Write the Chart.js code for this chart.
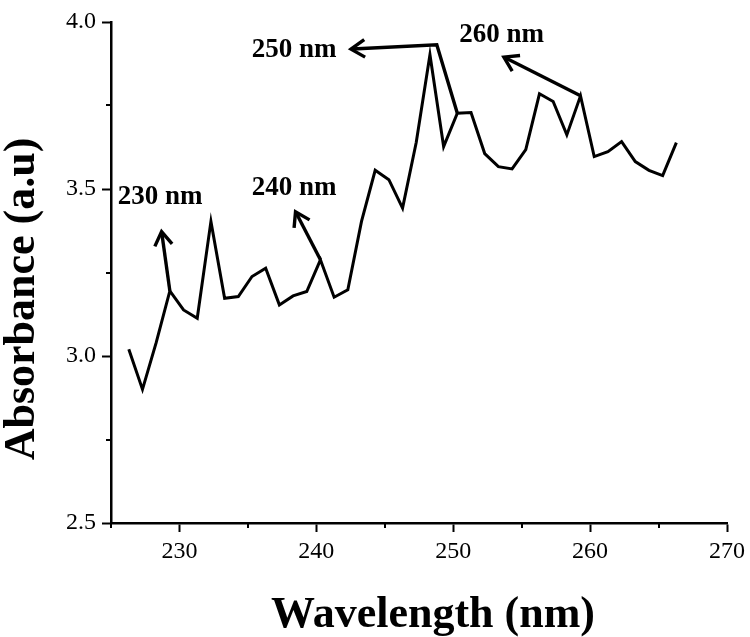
<!DOCTYPE html>
<html>
<head>
<meta charset="utf-8">
<script src="https://cdn.jsdelivr.net/npm/chart.js@4/dist/chart.umd.min.js"></script>
<style>
  html, body { margin: 0; padding: 0; background: #fff; }
  #wrap { width: 750px; height: 637px; }
</style>
</head>
<body>
<div id="wrap"><canvas id="absChart" width="750" height="637"></canvas></div>
<script>
// wavelength (nm) of each sample
const wavelengths = [226.3, 227.3, 228.3, 229.3, 230.3, 231.3, 232.3, 233.3, 234.3, 235.3,
  236.3, 237.3, 238.3, 239.3, 240.3, 241.3, 242.3, 243.3, 244.3, 245.3,
  246.3, 247.3, 248.3, 249.3, 250.3, 251.3, 252.3, 253.3, 254.3, 255.3,
  256.3, 257.3, 258.3, 259.3, 260.3, 261.3, 262.3, 263.3, 264.3, 265.3, 266.3];

// absorbance
const absorbance = [3.02, 2.90, 3.04, 3.195, 3.138, 3.113, 3.403, 3.173, 3.178, 3.238,
  3.263, 3.153, 3.180, 3.193, 3.288, 3.176, 3.198, 3.403, 3.556, 3.528,
  3.443, 3.64, 3.902, 3.627, 3.727, 3.729, 3.606, 3.567, 3.560, 3.618,
  3.785, 3.762, 3.662, 3.779, 3.597, 3.612, 3.642, 3.582, 3.556, 3.540, 3.639];

const xTickLabels = [230, 240, 250, 260, 270];
const yTickLabels = [2.5, 3.0, 3.5, 4.0];

// peak labels: text position and arrow path, in data units (last point = arrow tip)
const peakLabels = ['230 nm', '240 nm', '250 nm', '260 nm'];
const labelPos = [[228.59, 3.476], [238.37, 3.503], [238.37, 3.917], [253.53, 3.962]];
const arrowPaths = [
  [[229.3, 3.195], [228.71, 3.368]],
  [[240.3, 3.288], [238.53, 3.428]],
  [[250.3, 3.727], [248.8, 3.932], [242.64, 3.919]],
  [[259.3, 3.779], [253.8, 3.893]]
];

const serif = "'Liberation Serif', 'Times New Roman', serif";

const isMajorX = v => xTickLabels.includes(v);
const isMajorY = v => yTickLabels.some(t => Math.abs(t - v) < 1e-6);

const annotate = {
  id: 'annotate',
  afterDraw(chart) {
    const ctx = chart.ctx;
    const xs = chart.scales.x, ys = chart.scales.y;
    const area = chart.chartArea;
    ctx.save();
    ctx.strokeStyle = '#000';
    ctx.fillStyle = '#000';

    // short minor ticks
    ctx.lineWidth = 2;
    ctx.beginPath();
    xs.ticks.forEach(t => {
      if (isMajorX(t.value)) return;
      const px = Math.round(xs.getPixelForValue(t.value));
      ctx.moveTo(px, area.bottom);
      ctx.lineTo(px, area.bottom + 5);
    });
    ys.ticks.forEach(t => {
      if (isMajorY(t.value)) return;
      const py = Math.round(ys.getPixelForValue(t.value));
      ctx.moveTo(area.left, py);
      ctx.lineTo(area.left - 5, py);
    });
    ctx.stroke();

    // arrows
    ctx.lineWidth = 3.4;
    ctx.lineJoin = 'miter';
    ctx.lineCap = 'butt';
    arrowPaths.forEach(path => {
      const pts = path.map(p => [xs.getPixelForValue(p[0]), ys.getPixelForValue(p[1])]);
      ctx.beginPath();
      ctx.moveTo(pts[0][0], pts[0][1]);
      for (let i = 1; i < pts.length; i++) ctx.lineTo(pts[i][0], pts[i][1]);
      ctx.stroke();
      const a = pts[pts.length - 2], b = pts[pts.length - 1];
      const ang = Math.atan2(b[1] - a[1], b[0] - a[0]);
      const len = 15, spread = 0.62;
      ctx.beginPath();
      ctx.moveTo(b[0] - len * Math.cos(ang - spread), b[1] - len * Math.sin(ang - spread));
      ctx.lineTo(b[0] + 1.5 * Math.cos(ang), b[1] + 1.5 * Math.sin(ang));
      ctx.lineTo(b[0] - len * Math.cos(ang + spread), b[1] - len * Math.sin(ang + spread));
      ctx.stroke();
    });

    ctx.font = 'bold 27px ' + serif;
    ctx.textAlign = 'center';
    ctx.textBaseline = 'middle';
    peakLabels.forEach((t, i) => {
      ctx.fillText(t, xs.getPixelForValue(labelPos[i][0]), ys.getPixelForValue(labelPos[i][1]));
    });

    // axis titles
    ctx.font = 'bold 44px ' + serif;
    ctx.textBaseline = 'alphabetic';
    ctx.fillText('Wavelength (nm)', 433, 627);
    ctx.translate(34, 299);
    ctx.rotate(-Math.PI / 2);
    ctx.fillText('Absorbance (a.u)', 0, 0);
    ctx.restore();
  }
};

new Chart(document.getElementById('absChart'), {
  type: 'line',
  data: {
    datasets: [{
      data: wavelengths.map((w, i) => ({ x: w, y: absorbance[i] })),
      borderColor: '#000',
      borderWidth: 3,
      pointRadius: 0,
      tension: 0,
      fill: false
    }]
  },
  options: {
    responsive: false,
    animation: false,
    layout: { padding: { left: 0, top: 22, right: 21, bottom: 0 } },
    plugins: { legend: { display: false }, tooltip: { enabled: false } },
    scales: {
      x: {
        type: 'linear',
        min: 225, max: 270,
        afterFit: s => { s.height = 114; },
        border: { display: true, color: '#000', width: 2.5 },
        grid: {
          drawOnChartArea: false, drawTicks: true, tickLength: 9, tickWidth: 2,
          tickColor: c => (c.tick && isMajorX(c.tick.value)) ? '#000' : 'rgba(0,0,0,0)'
        },
        ticks: {
          stepSize: 5,
          color: '#000',
          padding: 5,
          maxRotation: 0,
          font: { family: serif, size: 24 },
          callback: v => isMajorX(v) ? String(v) : ''
        }
      },
      y: {
        min: 2.5, max: 4.0,
        afterFit: s => { s.width = 111; },
        border: { display: true, color: '#000', width: 2.5 },
        grid: {
          drawOnChartArea: false, drawTicks: true, tickLength: 9, tickWidth: 2,
          tickColor: c => (c.tick && isMajorY(c.tick.value)) ? '#000' : 'rgba(0,0,0,0)'
        },
        ticks: {
          stepSize: 0.25,
          color: '#000',
          padding: 6,
          font: { family: serif, size: 24 },
          callback: v => isMajorY(v) ? v.toFixed(1) : ''
        }
      }
    }
  },
  plugins: [annotate]
});
</script>
</body>
</html>
